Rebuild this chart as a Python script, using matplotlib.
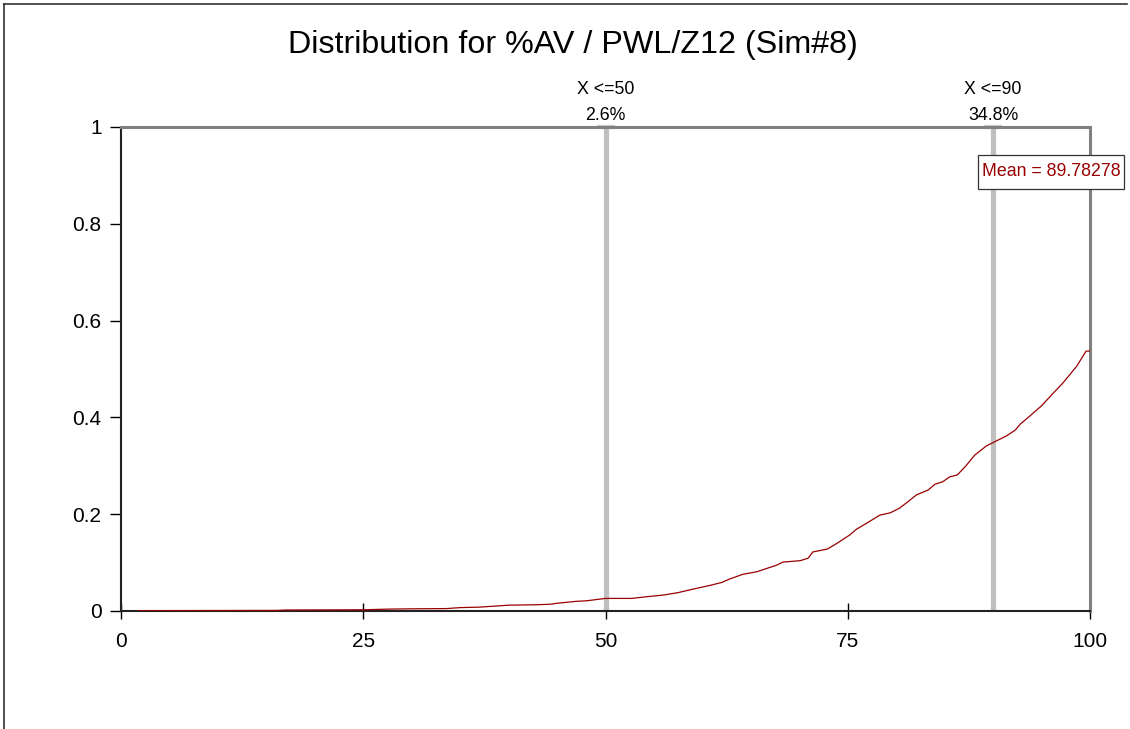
import matplotlib
matplotlib.use("Agg")
import matplotlib.pyplot as plt
from matplotlib.lines import Line2D
from matplotlib.patches import Rectangle

plt.rcParams['font.family'] = ['Liberation Sans', 'DejaVu Sans']

# Cumulative curve
x_vals = [1.8, 5, 10, 16, 17, 25, 27.8, 30, 33.6, 35, 37, 40, 43, 44.3, 45, 47, 48, 50,
          52.7, 54, 56, 57.5, 59, 60.8, 62, 62.8, 64.2, 65.6, 67.7, 68.3, 70.1, 70.9, 71.4,
          72.9, 73.9, 75.2, 75.9, 77, 78.3, 79.4, 80.3, 81.1, 82.1, 83.3, 84.0, 84.8, 85.5,
          86.3, 87.2, 88.1, 89.3, 90.0, 91.4, 92.3, 92.8, 93.8, 95.0, 96.2, 97.2, 98.6,
          99.6, 100]
y_vals = [0.0005, 0.0008, 0.001, 0.0012, 0.002, 0.0025, 0.004, 0.0045, 0.005, 0.007, 0.008,
          0.012, 0.013, 0.014, 0.016, 0.020, 0.021, 0.026,
          0.026, 0.029, 0.033, 0.038, 0.045, 0.053, 0.059, 0.066, 0.076, 0.081, 0.095, 0.101,
          0.104, 0.109, 0.122, 0.128, 0.140, 0.157, 0.169, 0.182, 0.198, 0.203, 0.212, 0.224,
          0.240, 0.250, 0.262, 0.267, 0.277, 0.281, 0.300, 0.322, 0.341, 0.348, 0.362, 0.374,
          0.386, 0.403, 0.424, 0.450, 0.471, 0.505, 0.537, 0.537]

markers_x = [50, 90]
markers_label = ["X <=50", "X <=90"]
markers_pct = ["2.6%", "34.8%"]
mean_text = "Mean = 89.78278"
title = "Distribution for %AV / PWL/Z12 (Sim#8)"
x_ticks = [0, 25, 50, 75, 100]
y_ticks = [0, 0.2, 0.4, 0.6, 0.8, 1]
y_ticklabels = ["0", "0.2", "0.4", "0.6", "0.8", "1"]

fig = plt.figure(figsize=(11.3, 7.29), dpi=100)
ax = fig.add_axes([121/1130, 1 - 611/729, (1090-121)/1130, (611-127)/729])

# figure border (left and top)
fig.add_artist(Line2D([4/1130, 4/1130], [0, 1 - 4/729], transform=fig.transFigure,
                      color='#333333', lw=1.2))
fig.add_artist(Line2D([4/1130, 1127/1130], [1 - 4/729, 1 - 4/729], transform=fig.transFigure,
                      color='#333333', lw=1.2))

ax.set_xlim(0, 100)
ax.set_ylim(0, 1)

for mx, lab, pct in zip(markers_x, markers_label, markers_pct):
    ax.plot([mx, mx], [0, 1], color='#c0c0c0', lw=3.8, solid_capstyle='butt', zorder=2)
    ax.plot([mx], [1], marker='_', markersize=13, mew=3, color='#c8c8c8',
            clip_on=False, zorder=2)
    ax.text(mx, (611-90)/484, lab, ha='center', va='center', fontsize=12.8, clip_on=False)
    ax.text(mx, (611-115)/484, pct, ha='center', va='center', fontsize=12.8, clip_on=False)

ax.plot(x_vals, y_vals, color='#990000', lw=0.9, zorder=3)

# mean box
bx0, bx1 = (978-121)/9.69, (1124-121)/9.69
by0, by1 = (611-189)/484, (611-155)/484
ax.add_patch(Rectangle((bx0, by0), bx1 - bx0, by1 - by0, fc='white', ec='#333333',
                       lw=0.9, clip_on=False, zorder=5))
ax.text((bx0 + bx1) / 2, (by0 + by1) / 2, mean_text, ha='center', va='center',
        fontsize=12.8, color='#990000', zorder=6, clip_on=False)

ax.set_xticks(x_ticks)
ax.set_xticklabels([str(t) for t in x_ticks], fontsize=15)
ax.set_yticks(y_ticks)
ax.set_yticklabels(y_ticklabels, fontsize=15)
ax.tick_params(axis='x', direction='inout', length=12, width=1, pad=9)
ax.tick_params(axis='y', direction='out', length=8, width=1, pad=6)

for s in ['left', 'bottom']:
    ax.spines[s].set_color('#222222')
    ax.spines[s].set_linewidth(1.5)
for s in ['top', 'right']:
    ax.spines[s].set_color('#808080')
    ax.spines[s].set_linewidth(2.2)

fig.text(573/1130, 1 - 45/729, title, ha='center', va='center', fontsize=23.2)

fig.savefig("out.png", dpi=100)
